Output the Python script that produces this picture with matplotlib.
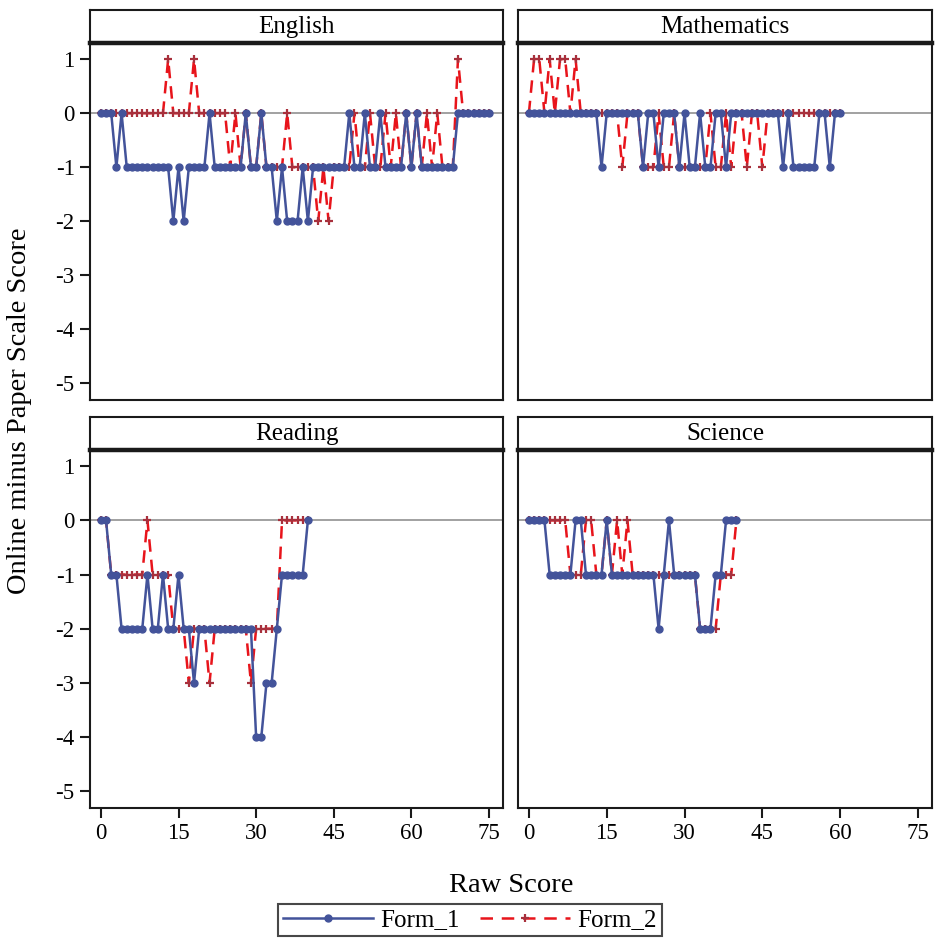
import numpy as np
import matplotlib
matplotlib.use("Agg")
import matplotlib.pyplot as plt
from matplotlib.lines import Line2D

plt.rcParams['font.family'] = ['Liberation Serif', 'DejaVu Serif']
plt.rcParams['axes.unicode_minus'] = False

# values (online minus paper scale score)
english_f1 = [0, 0, 0, -1, 0, -1, -1, -1, -1, -1, -1, -1, -1, -1, -2, -1, -2, -1, -1, -1,
              -1, 0, -1, -1, -1, -1, -1, -1, 0, -1, -1, 0, -1, -1, -2, -1, -2, -2, -2, -1,
              -2, -1, -1, -1, -1, -1, -1, -1, 0, -1, -1, 0, -1, -1, 0, -1, -1, -1, -1, 0,
              -1, 0, -1, -1, -1, -1, -1, -1, -1, 0, 0, 0, 0, 0, 0, 0]
english_f2 = [0, 0, 0, 0, 0, 0, 0, 0, 0, 0, 0, 0, 0, 1, 0, 0, 0, 0, 1, 0,
              0, 0, 0, 0, 0, -1, 0, -1, 0, -1, -1, 0, -1, -1, -1, -1, 0, -1, -1, -1,
              -1, -1, -2, -1, -2, -1, -1, -1, -1, 0, -1, -1, 0, -1, -1, 0, -1, 0, -1, 0,
              -1, 0, -1, 0, -1, 0, -1, -1, -1, 1, 0, 0, 0, 0, 0, 0]
math_f1 = [0, 0, 0, 0, 0, 0, 0, 0, 0, 0, 0, 0, 0, 0, -1, 0, 0, 0, 0, 0,
           0, 0, -1, 0, 0, -1, 0, 0, 0, -1, 0, -1, -1, 0, -1, -1, 0, 0, -1, 0,
           0, 0, 0, 0, 0, 0, 0, 0, 0, -1, 0, -1, -1, -1, -1, -1, 0, 0, -1, 0, 0]
math_f2 = [0, 1, 1, 0, 1, 0, 1, 1, 0, 1, 0, 0, 0, 0, 0, 0, 0, 0, -1, 0,
           0, 0, -1, -1, -1, 0, -1, -1, 0, -1, -1, -1, -1, -1, -1, 0, -1, -1, 0, -1,
           0, 0, -1, 0, 0, -1, 0, 0, 0, 0, 0, 0, 0, 0, 0, 0, 0, 0, 0, 0, 0]
reading_f1 = [0, 0, -1, -1, -2, -2, -2, -2, -2, -1, -2, -2, -1, -2, -2, -1, -2, -2, -3, -2,
              -2, -2, -2, -2, -2, -2, -2, -2, -2, -2, -4, -4, -3, -3, -2, -1, -1, -1, -1, -1, 0]
reading_f2 = [0, 0, -1, -1, -1, -1, -1, -1, -1, 0, -1, -1, -1, -1, -2, -2, -2, -3, -2, -2,
              -2, -3, -2, -2, -2, -2, -2, -2, -2, -3, -2, -2, -2, -2, -2, 0, 0, 0, 0, 0, 0]
science_f1 = [0, 0, 0, 0, -1, -1, -1, -1, -1, 0, 0, -1, -1, -1, -1, 0, -1, -1, -1, -1,
              -1, -1, -1, -1, -1, -2, -1, 0, -1, -1, -1, -1, -1, -2, -2, -2, -1, -1, 0, 0, 0]
science_f2 = [0, 0, 0, 0, 0, 0, 0, 0, -1, -1, -1, 0, 0, -1, -1, 0, -1, 0, -1, 0,
              -1, -1, -1, -1, -1, -1, -1, -1, -1, -1, -1, -1, -1, -2, -2, -2, -2, -1, -1, -1, 0]

subjects = ["English", "Mathematics", "Reading", "Science"]
form1 = [english_f1, math_f1, reading_f1, science_f1]
form2 = [english_f2, math_f2, reading_f2, science_f2]

blue = '#43539A'
red = '#E8141B'
red_mk = '#A8303C'

W, H = 935, 939
fig = plt.figure(figsize=(W / 100, H / 100), dpi=100)

# panel boxes in pixels: (left, right) and (header_top, plot_top, plot_bottom)
cols = [(90, 503), (518, 932)]
rows = [(10, 43, 400), (417, 450, 808)]

for i, name in enumerate(subjects):
    r, c = divmod(i, 2)
    x0, x1 = cols[c]
    ht, pt, pb = rows[r]
    ax = fig.add_axes([x0 / W, 1 - pb / H, (x1 - x0) / W, (pb - pt) / H])
    hx = fig.add_axes([x0 / W, 1 - pt / H, (x1 - x0) / W, (pt - ht) / H])

    hx.set_xticks([])
    hx.set_yticks([])
    for s in hx.spines.values():
        s.set_linewidth(1.5)
        s.set_color('#1a1a1a')
    hx.spines['bottom'].set_linewidth(3.2)
    hx.text(0.5, 0.47, name, ha='center', va='center', fontsize=18, transform=hx.transAxes)

    y1 = np.array(form1[i])
    y2 = np.array(form2[i])
    xs1 = np.arange(len(y1))
    xs2 = np.arange(len(y2))

    ax.axhline(0, color='#9a9a9a', lw=1.3, zorder=1)
    ax.plot(xs1, y1, color=blue, lw=1.8, marker='o', ms=5, mec=blue, mfc=blue, zorder=3)
    ax.plot(xs2, y2, color=red, lw=1.8, ls=(0, (5, 3.2)), zorder=2)
    ax.plot(xs2, y2, ls='none', marker='+', ms=6, mew=1.6, color=red_mk, zorder=2)

    ax.set_xlim(-2.1, 77.7)
    ax.set_ylim(-5.31, 1.30)
    ax.set_xticks([0, 15, 30, 45, 60, 75])
    ax.set_yticks([-5, -4, -3, -2, -1, 0, 1])
    for s in ax.spines.values():
        s.set_linewidth(1.5)
        s.set_color('#1a1a1a')
    ax.tick_params(direction='out', length=7, width=1.5, labelsize=16.5, pad=4, color='#1a1a1a')
    if c == 1:
        ax.tick_params(axis='y', left=False, labelleft=False)
    if r == 0:
        ax.tick_params(axis='x', bottom=False, labelbottom=False)

fig.text(511 / W, 1 - 885 / H, "Raw Score", ha='center', va='center', fontsize=20.5)
fig.text(20 / W, 1 - 411 / H, "Online minus Paper Scale Score", ha='center', va='center',
         rotation=90, fontsize=20.5)

handles = [
    Line2D([], [], color=blue, lw=1.8, marker='o', ms=5),
    Line2D([], [], color=red, lw=1.8, ls=(0, (5, 3.5)), marker='+', ms=6, mew=1.6, mec=red_mk),
]
leg = fig.legend(handles, ["Form_1", "Form_2"], loc='center', bbox_to_anchor=(470 / W, 1 - 920 / H),
                 ncol=2, frameon=True, fancybox=False, fontsize=18, handlelength=3.6,
                 columnspacing=0.8, handletextpad=0.3, borderpad=0.2, borderaxespad=0)
leg.get_frame().set_edgecolor('#1a1a1a')
leg.get_frame().set_linewidth(1.5)

fig.savefig("out.png", dpi=100)
